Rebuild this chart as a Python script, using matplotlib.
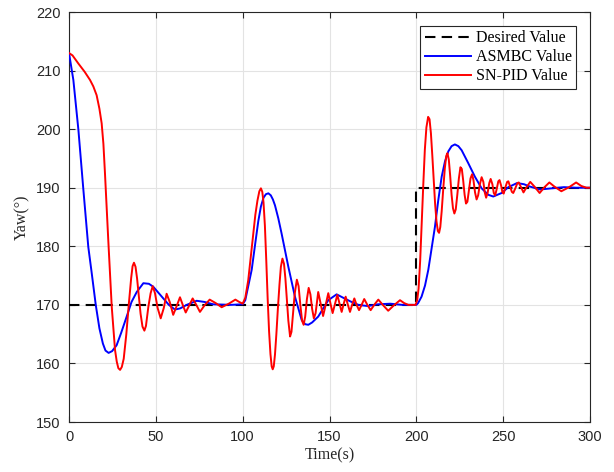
import matplotlib
matplotlib.use("Agg")
import matplotlib.pyplot as plt

# desired yaw (step at t=200)
t_des = [0, 200, 200, 300]
yaw_des = [170, 170, 190, 190]

# ASMBC response
t_asmbc = [0, 2.5, 5.4, 8.2, 11.1, 13.0, 15.4, 17.5, 19.5, 21.0, 22.8, 24.8, 27.4, 30.0, 33.2,
           36.0, 39.0, 42.8, 46.0, 48.5, 54.3, 57.5, 61.0, 64.0, 67.8, 73.5, 78.0, 83.0, 93.0,
           100.0, 101.5, 103.0, 105.2, 107.2, 109.0, 110.5, 112.0, 113.4, 114.8, 116.2, 117.4,
           118.6, 120.5, 122.4, 126.3, 130.1, 134.0, 136.0, 137.8, 140.0, 143.5, 149.3, 154.1,
           158.0, 162.0, 166.6, 172.0, 178.0, 185.0, 192.0, 200.0, 201.0, 203.0, 205.0, 206.9,
           210.7, 212.6, 214.6, 216.5, 218.4, 220.3, 222.2, 224.2, 226.1, 229.9, 233.7, 237.6,
           241.4, 244.3, 249.1, 253.0, 258.0, 262.0, 265.4, 271.2, 278.0, 285.0, 292.0, 300.0]
yaw_asmbc = [213, 208.4, 199.9, 189.9, 179.9, 175.6, 170.0, 166.0, 163.4, 162.2, 161.8, 162.1,
             163.1, 165.2, 168.0, 170.5, 172.2, 173.7, 173.6, 173.1, 171.1, 170.0, 169.2, 169.4,
             170.0, 170.7, 170.5, 170.1, 170.0, 170.1, 170.8, 172.9, 176.0, 180.4, 184.3, 186.8,
             188.3, 188.9, 189.05, 188.7, 188.0, 187.0, 184.8, 182.2, 176.5, 171.4, 167.4, 166.7,
             166.6, 167.0, 168.0, 170.8, 171.8, 171.2, 170.6, 170.0, 169.8, 170.1, 170.2, 170.0,
             170.0, 170.3, 171.4, 173.3, 176.0, 183.3, 187.8, 191.9, 194.5, 196.2, 197.1, 197.4,
             197.1, 196.4, 194.2, 191.9, 189.9, 188.8, 188.5, 189.1, 190.1, 190.8, 190.6, 190.2,
             189.7, 189.9, 190.1, 190.0, 190.0]

# SN-PID response
t_pid = [0, 2, 5.4, 9, 12.1, 14, 15.9, 17.5, 18.8, 19.8, 20.7, 22.6, 24.6, 26.5, 27.5, 28.4,
         29.4, 30.4, 31.5, 33, 34.4, 35.8, 36.6, 37.4, 38.3, 39.2, 40.2, 41.2, 42.3, 43.4, 44.3,
         45.7, 47, 48.2, 49.5, 51, 52.8, 54.6, 56.2, 58, 60, 62, 63.9, 65.5, 67.2, 69.2, 71.2,
         73.3, 75.4, 78, 81, 84.5, 87.9, 92, 95.8, 98, 100, 101.5, 103.2, 104.5, 106.1, 107.3,
         108.5, 109.6, 110.5, 111.3, 112, 112.8, 113.6, 114.4, 115.2, 116, 116.7, 117.3, 117.9,
         118.6, 119.4, 120.3, 121.2, 122, 122.9, 123.8, 124.6, 125.4, 126.3, 127.3, 128.1, 129,
         130, 131.2, 132.2, 133.2, 134.2, 135.1, 136, 137, 138, 139, 140, 141, 142, 143.5, 144.9,
         146.3, 147.8, 149.3, 150.5, 151.8, 153.2, 154.5, 155.8, 157, 158.2, 159.3, 160.5, 161.8,
         163, 164.3, 165.6, 167, 168.5, 170, 171.8, 173.7, 176, 178.1, 181, 183.8, 187, 190.6,
         193, 195.4, 199.5, 200.5, 201.3, 202.2, 203.1, 204, 204.9, 205.8, 206.8, 207.6, 208.4,
         209.2, 210, 210.8, 211.6, 212.4, 213.1, 213.8, 214.6, 215.5, 216.4, 217.2, 217.9,
         218.7, 219.5, 220.3, 221.1, 221.9, 222.7, 223.6, 224.5, 225.4, 226.2, 227, 227.8,
         228.6, 229.4, 230.3, 231.2, 232.1, 232.9, 233.8, 234.7, 235.6, 236.6, 237.6, 238.6,
         239.4, 240.2, 241.1, 242, 242.8, 243.8, 244.6, 245.4, 246.3, 247.2, 247.9, 248.8,
         249.6, 250.3, 251.2, 252.3, 253, 254, 255, 255.8, 257, 258.2, 259, 260.3, 261.7, 263.7,
         265.6, 268.3, 271, 273.8, 276.6, 279.5, 283.5, 288, 292, 295, 298, 300]
yaw_pid = [213, 212.6, 211.2, 209.8, 208.4, 207.3, 205.8, 203.5, 201, 197.5, 192.5, 181.1, 169.7,
           162.3, 160.3, 159.2, 158.9, 159.4, 160.8, 165, 170, 174.6, 176.6, 177.2, 176.5, 174.5,
           171.5, 168.5, 166.3, 165.6, 166.4, 169.7, 172, 173.2, 172, 169.5, 167.7, 169.5, 171.9,
           170.5, 168.3, 169.8, 171.3, 170, 168.7, 169.9, 171.1, 170, 168.8, 169.9, 170.9, 170.3,
           169.6, 170.2, 170.9, 170.5, 170.2, 171.2, 174.2, 177.8, 182.2, 185.4, 187.8, 189.4,
           189.9, 189.3, 187.5, 183.5, 177.5, 171, 165.5, 161.6, 159.5, 159, 159.5, 161.5, 165,
           169.5, 173.5, 176.5, 177.9, 177, 174.5, 171, 167.3, 164.6, 165.4, 168.5, 172, 174.3,
           173.2, 170, 167.3, 166.6, 168, 171, 172.9, 171.8, 169.3, 167.7, 168.6, 172.2, 170.2,
           168.1, 170, 172, 170.3, 168.6, 170.2, 171.7, 170.2, 168.8, 170.2, 171.4, 170.1, 168.8,
           170, 171.1, 170, 169.1, 170, 171, 170, 169.1, 170.1, 170.9, 169.9, 169, 169.9, 170.8,
           170.3, 170, 170, 170.8, 172.8, 177.5, 184, 190.5, 196.5, 200.3, 202.1, 201.7, 199.3,
           195.5, 191.3, 187.3, 184.3, 182.6, 182.3, 183.3, 186, 189.8, 193.3, 195.4, 195.9,
           194.8, 192, 188.8, 186.5, 185.6, 186.3, 188.8, 191.6, 193.5, 193.2, 191.2, 188.8,
           187.3, 187.6, 189.6, 191.6, 192.3, 191.3, 189.2, 188, 188.7, 190.6, 191.8, 191, 189.2,
           188.3, 189.2, 190.8, 191.5, 190.6, 189.1, 188.7, 189.8, 191.1, 191.3, 190.4, 189.2,
           189, 190, 191, 191.1, 190.2, 189.3, 189.1, 189.9, 190.8, 190.9, 190.1, 189.2, 190.2,
           191, 190.1, 189.1, 190.1, 190.9, 190.2, 189.4, 190.1, 190.9, 190.3, 190, 190]

serif = ["Liberation Serif", "DejaVu Serif"]
sans = ["Liberation Sans", "DejaVu Sans"]

fig = plt.figure(figsize=(6.14, 4.72), dpi=100)
ax = fig.add_axes([0.1124, 0.1059, 0.8485, 0.8686])

ax.plot(t_des, yaw_des, color="black", lw=1.5, dashes=(5, 3), label="Desired Value", zorder=3)
ax.plot(t_asmbc, yaw_asmbc, color="#0000ff", lw=1.4, label="ASMBC Value", zorder=4)
ax.plot(t_pid, yaw_pid, color="#ff0000", lw=1.4, label="SN-PID Value", zorder=5)

ax.set_xlim(0, 300)
ax.set_ylim(150, 220)
ax.set_xticks(range(0, 301, 50))
ax.set_yticks(range(150, 221, 10))
ax.grid(True, color="#e3e3e3", lw=0.8)
ax.set_axisbelow(True)
ax.tick_params(direction="in", top=True, right=True, length=4, width=0.8,
               colors="#262626", labelsize=10.5, pad=6)
for lab in ax.get_xticklabels() + ax.get_yticklabels():
    lab.set_family(sans)
for s in ax.spines.values():
    s.set_color("#262626")
    s.set_linewidth(0.8)

ax.set_xlabel("Time(s)", family=serif, fontsize=11.5, color="#262626", labelpad=2)
ax.set_ylabel("Yaw(°)", family=serif, fontsize=11.5, color="#262626", labelpad=4)

leg = ax.legend(loc="upper right", prop={"family": serif, "size": 11.5}, handlelength=2.9,
                fancybox=False, framealpha=1, edgecolor="#262626", borderpad=0.3,
                labelspacing=0.18, handletextpad=0.3, borderaxespad=0.85)
leg.get_frame().set_linewidth(0.8)

fig.savefig("out.png", dpi=100)
